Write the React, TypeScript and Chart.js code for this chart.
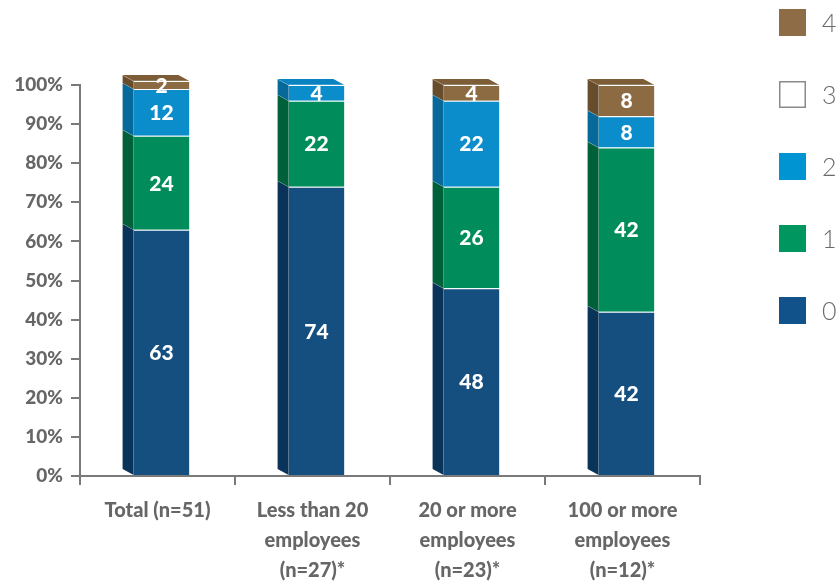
import React, { useEffect, useRef } from 'react';
import { Chart, registerables } from 'chart.js';

Chart.register(...registerables);

const categories: string[][] = [
  ['Total (n=51)'],
  ['Less than 20', 'employees', '(n=27)*'],
  ['20 or more', 'employees', '(n=23)*'],
  ['100 or more', 'employees', '(n=12)*'],
];
const seriesNames = ['0', '1', '2', '3', '4'];
const series0 = [63, 74, 48, 42];
const series1 = [24, 22, 26, 42];
const series2 = [12, 4, 22, 8];
const series3 = [0, 0, 0, 0];
const series4 = [2, 0, 4, 8];
const yMax = 100;
const yStep = 10;

const frontColors = ['#144f80', '#008d5b', '#0b8dcb', '#ffffff', '#8c6b42'];
const sideColors = ['#0a335a', '#00603a', '#06699a', '#dddddd', '#684d2c'];
const topColors = ['#1b5788', '#05845a', '#0a84c0', '#ffffff', '#7c5d37'];
const legendColors = ['#11528a', '#00965f', '#0094d2', '#ffffff', '#8e6c45'];

const FONT = 'Lato, "DejaVu Sans", sans-serif';

const depthX = 11;
const depthY = 6;
const shiftX = 4;

const threeDPlugin = {
  id: 'threeD',
  beforeDatasetsDraw(chart: any) {
    chart.ctx.save();
    chart.ctx.translate(shiftX, 0);
  },
  afterDatasetsDraw(chart: any) {
    const ctx = chart.ctx;
    const n = chart.data.labels.length;
    ctx.save();
    for (let j = 0; j < n; j++) {
      let topIdx = -1;
      chart.data.datasets.forEach((ds: any, i: number) => {
        const v = ds.data[j];
        if (!v) return;
        topIdx = i;
        const el = chart.getDatasetMeta(i).data[j];
        const { x, y, base, width } = el.getProps(['x', 'y', 'base', 'width'], true);
        const x0 = x - width / 2;
        ctx.fillStyle = sideColors[i];
        ctx.beginPath();
        ctx.moveTo(x0, y);
        ctx.lineTo(x0 - depthX, y - depthY);
        ctx.lineTo(x0 - depthX, base - depthY);
        ctx.lineTo(x0, base);
        ctx.closePath();
        ctx.fill();
        ctx.strokeStyle = 'rgba(255,255,255,0.45)';
        ctx.lineWidth = 1;
        ctx.beginPath();
        ctx.moveTo(x0, y);
        ctx.lineTo(x0 - depthX, y - depthY);
        ctx.stroke();
      });
      if (topIdx >= 0) {
        const el = chart.getDatasetMeta(topIdx).data[j];
        const { x, y, width } = el.getProps(['x', 'y', 'width'], true);
        const x0 = x - width / 2;
        const x1 = x + width / 2;
        ctx.fillStyle = topColors[topIdx];
        ctx.beginPath();
        ctx.moveTo(x0, y);
        ctx.lineTo(x1, y);
        ctx.lineTo(x1 - depthX, y - depthY);
        ctx.lineTo(x0 - depthX, y - depthY);
        ctx.closePath();
        ctx.fill();
        ctx.strokeStyle = 'rgba(255,255,255,0.45)';
        ctx.lineWidth = 1;
        ctx.beginPath();
        ctx.moveTo(x0, y);
        ctx.lineTo(x1, y);
        ctx.stroke();
      }
    }
    ctx.fillStyle = '#ffffff';
    ctx.font = `900 21px ${FONT}`;
    ctx.textAlign = 'center';
    ctx.textBaseline = 'middle';
    chart.data.datasets.forEach((ds: any, i: number) => {
      chart.getDatasetMeta(i).data.forEach((el: any, j: number) => {
        const v = ds.data[j];
        if (!v) return;
        const { x, y, base } = el.getProps(['x', 'y', 'base'], true);
        ctx.fillText(String(v), x, (y + base) / 2 + 1);
      });
    });
    ctx.restore();
    ctx.restore();
  },
};

const legendPlugin = {
  id: 'sideLegend',
  afterDraw(chart: any) {
    const ctx = chart.ctx;
    const ds = chart.data.datasets;
    ctx.save();
    const box = 27;
    const left = 779;
    const top0 = 9;
    const gap = 72;
    for (let k = 0; k < ds.length; k++) {
      const i = ds.length - 1 - k;
      const y = top0 + k * gap;
      ctx.fillStyle = legendColors[i];
      ctx.fillRect(left, y, box, box);
      if (legendColors[i] === '#ffffff') {
        ctx.strokeStyle = '#8a8a8a';
        ctx.lineWidth = 1.5;
        ctx.strokeRect(left + 0.75, y + 0.75, box - 1.5, box - 1.5);
      }
      ctx.fillStyle = '#6a6a6a';
      ctx.font = `300 25px ${FONT}`;
      ctx.textAlign = 'left';
      ctx.textBaseline = 'middle';
      ctx.fillText(ds[i].label, 822, y + box / 2 + 1);
    }
    ctx.restore();
  },
};

export default function App() {
  const ref = useRef<HTMLCanvasElement | null>(null);
  useEffect(() => {
    document.body.style.margin = '0';
    const values = [series0, series1, series2, series3, series4];
    const chart = new Chart(ref.current as HTMLCanvasElement, {
      type: 'bar',
      data: {
        labels: categories,
        datasets: values.map((d, i) => ({
          label: seriesNames[i],
          data: d,
          backgroundColor: frontColors[i],
          borderColor: 'rgba(255,255,255,0.45)',
          borderWidth: { top: 1, left: 0, right: 0, bottom: 0 },
          borderSkipped: false as any,
          barPercentage: 0.36,
          categoryPercentage: 1,
          clip: false as any,
        })),
      },
      options: {
        responsive: false,
        animation: false,
        layout: { padding: { left: 0, top: 85, right: 137, bottom: 0 } },
        plugins: {
          legend: { display: false },
          tooltip: { enabled: false },
        },
        scales: {
          x: {
            stacked: true,
            grid: {
              display: true,
              drawOnChartArea: false,
              drawTicks: true,
              tickLength: 9,
              color: '#7a7a7a',
              lineWidth: 2,
              offset: true,
            },
            border: { display: true, color: '#7a7a7a', width: 2 },
            ticks: {
              autoSkip: false,
              maxRotation: 0,
              minRotation: 0,
              padding: 11,
              color: '#666666',
              font: { family: FONT, size: 20, weight: 900 as any, lineHeight: 1.5 },
            },
            afterFit(scale: any) {
              scale.height = 106;
            },
          },
          y: {
            stacked: true,
            min: 0,
            max: yMax,
            grid: {
              display: true,
              drawOnChartArea: false,
              drawTicks: true,
              tickLength: 9,
              color: '#7a7a7a',
              lineWidth: 2,
            },
            border: { display: true, color: '#7a7a7a', width: 2 },
            ticks: {
              stepSize: yStep,
              padding: 8,
              color: '#666666',
              font: { family: FONT, size: 19, weight: 900 as any },
              callback: (v: any) => `${v}%`,
            },
            afterFit(scale: any) {
              scale.width = 80;
            },
          },
        },
      },
      plugins: [threeDPlugin, legendPlugin],
    });
    if ((document as any).fonts && (document as any).fonts.ready) {
      (document as any).fonts.ready.then(() => chart.update());
    }
    return () => chart.destroy();
  }, []);
  return (
    <div style={{ position: 'fixed', left: 0, top: 0, width: 837, height: 582 }}>
      <canvas ref={ref} width={837} height={582} />
    </div>
  );
}
